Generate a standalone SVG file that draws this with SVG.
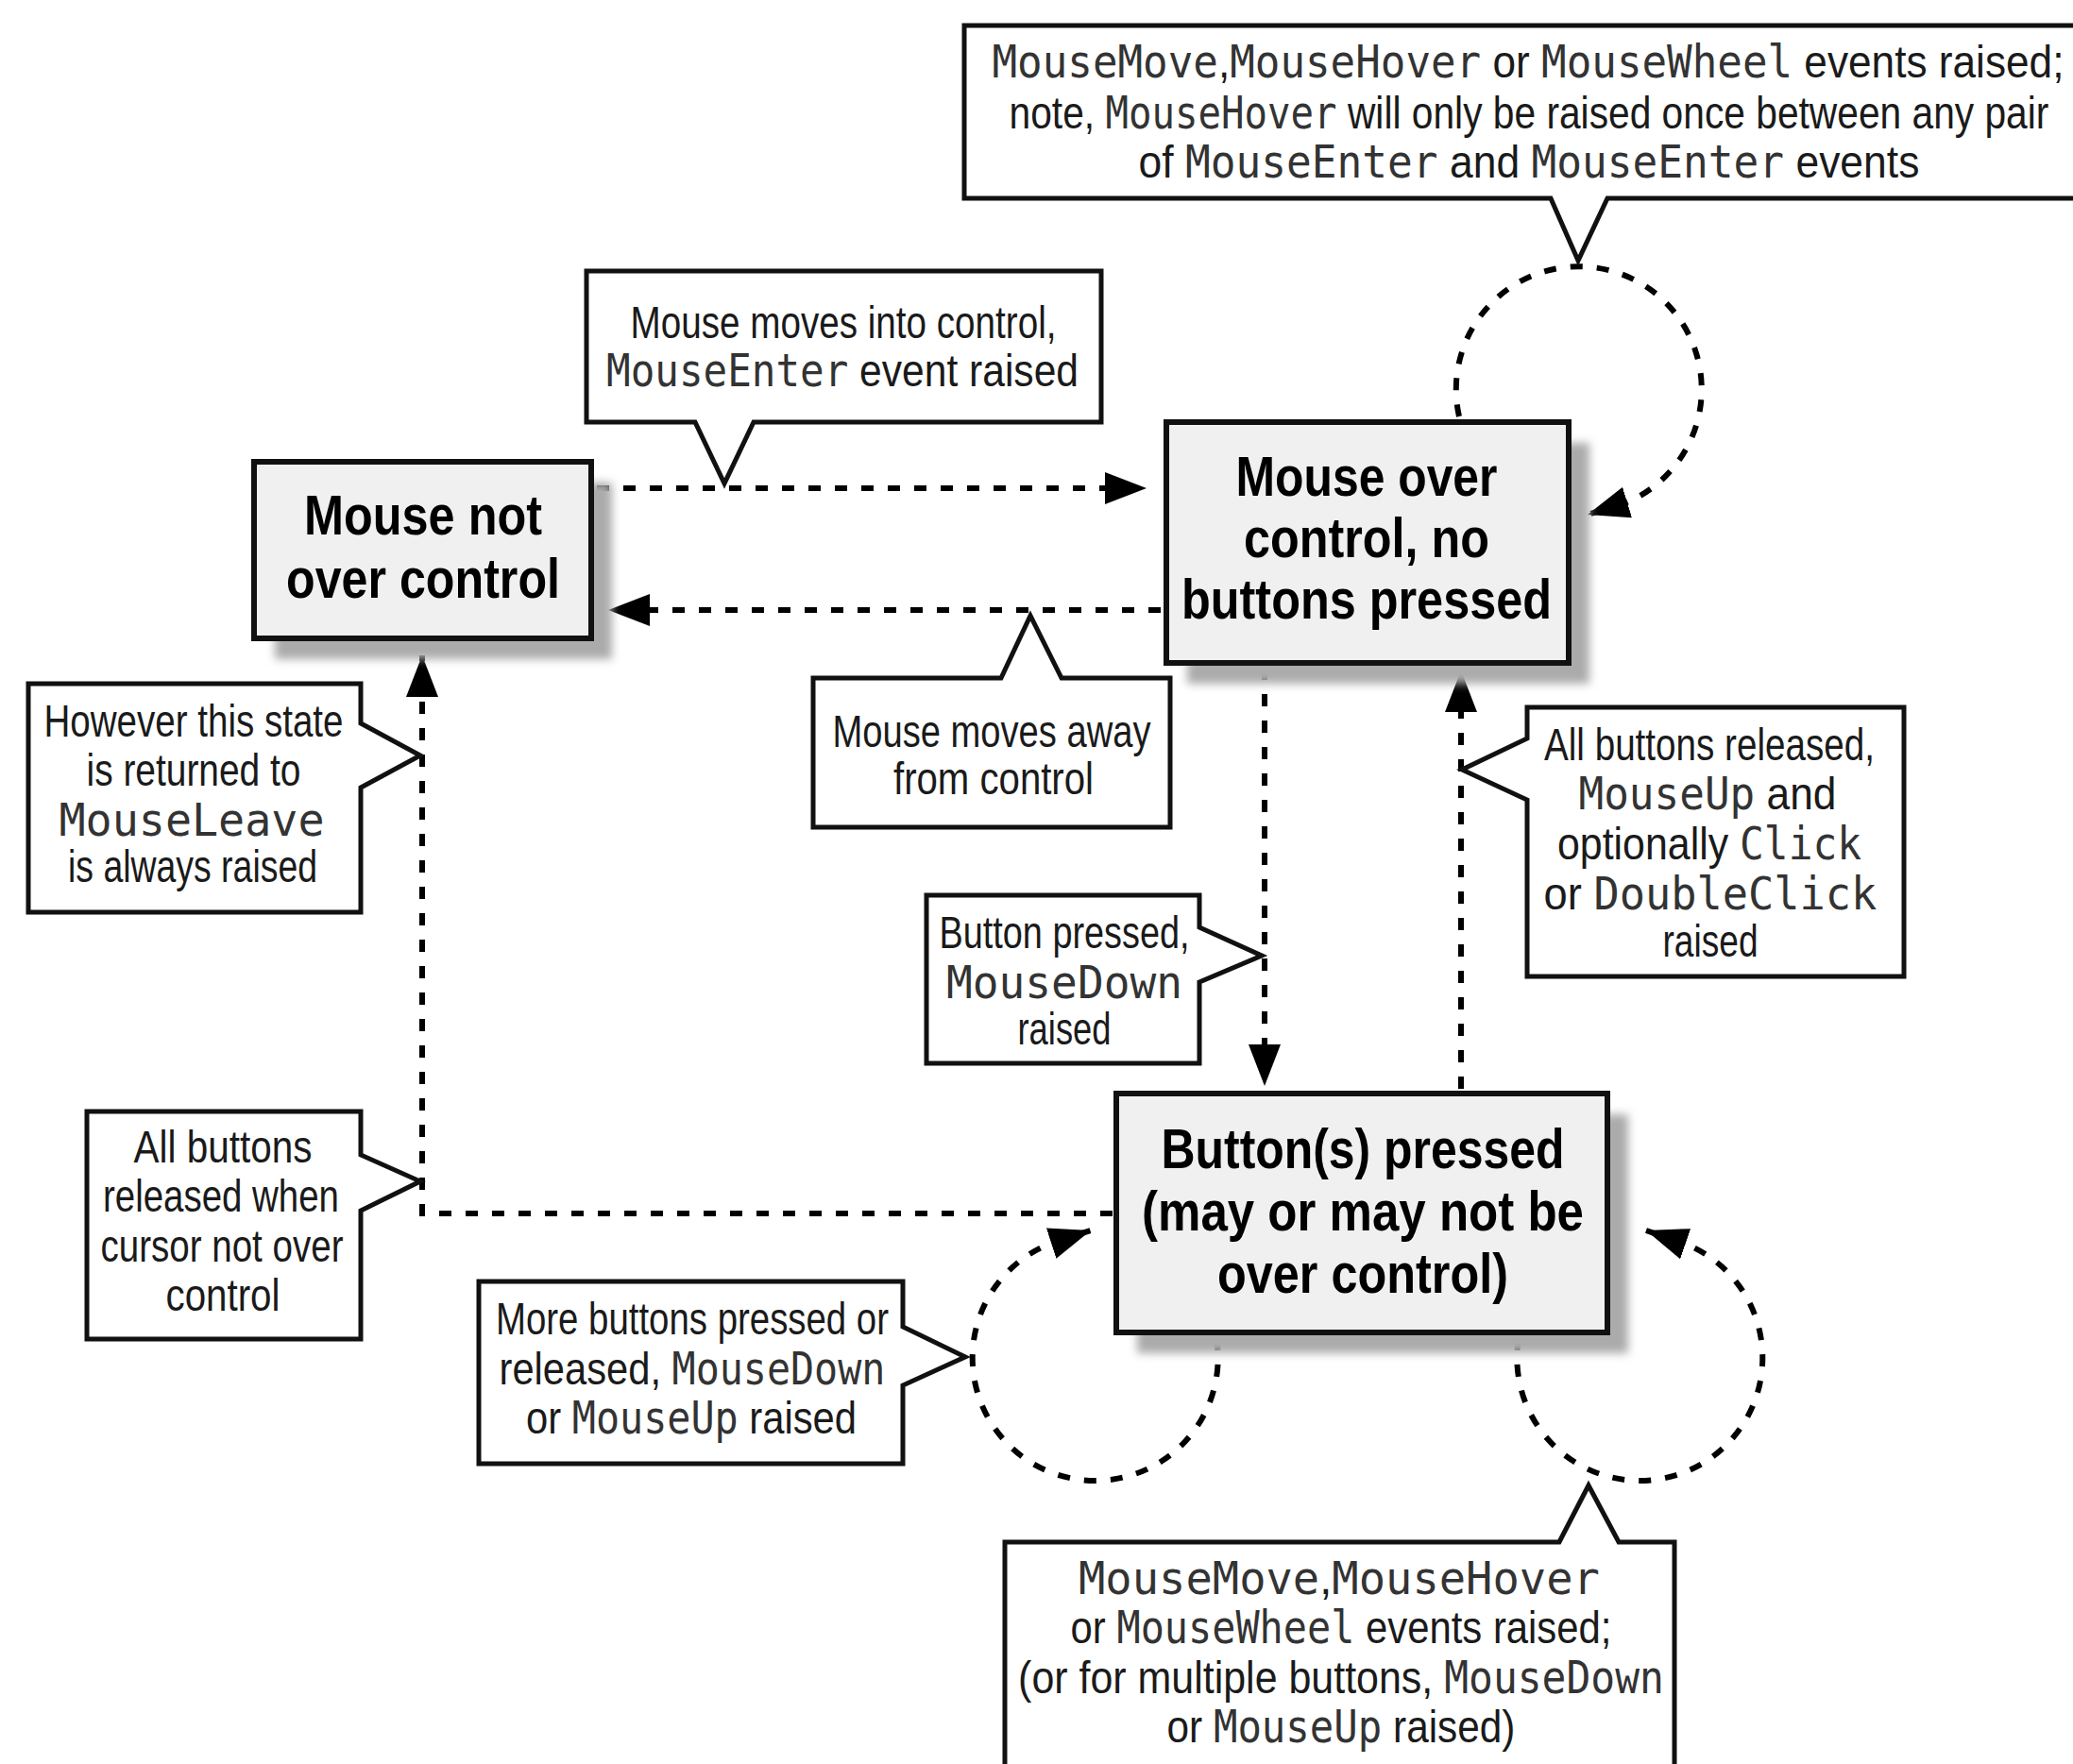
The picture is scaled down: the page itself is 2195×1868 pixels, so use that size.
<svg xmlns="http://www.w3.org/2000/svg" width="2195" height="1868" viewBox="0 0 2195 1868">
<style>
.bg{fill:#fff}
.box{fill:#f0f0f0;stroke:#111;stroke-width:6}
.shadow{fill:#ababab;filter:url(#blur)}
.callout{fill:#fff;stroke:#111;stroke-width:5;stroke-linejoin:miter}
.conn{fill:none;stroke:#000;stroke-width:6;stroke-dasharray:13 15}
.t{font-family:"Liberation Sans",Arial,sans-serif;font-size:48px;fill:#1a1a1a;text-anchor:middle}
.c{font-family:"DejaVu Sans Mono","Liberation Mono",monospace;fill:#333}
.n{font-family:"Liberation Sans",Arial,sans-serif;font-size:60px;font-weight:bold;fill:#000;text-anchor:middle}
</style>
<defs>
<filter id="blur" x="-20%" y="-20%" width="140%" height="140%"><feGaussianBlur stdDeviation="5"/></filter>
<marker id="arr" markerUnits="userSpaceOnUse" viewBox="0 -17 44 34" refX="44" refY="0" markerWidth="44" markerHeight="34" orient="auto"><path d="M0,-17 L44,0 L0,17 Z" fill="#000"/></marker>
</defs>
<rect class="bg" x="0" y="0" width="2195" height="1868"/>

<g id="connectors">
<path class="conn" d="M632,517 H1214" marker-end="url(#arr)"/>
<path class="conn" d="M1229,646 H644" marker-end="url(#arr)"/>
<path class="conn" d="M1545,441 A130,130 0 1 1 1720,533 L1681,545" marker-end="url(#arr)"/>
<path class="conn" d="M1339,707 V1150" marker-end="url(#arr)"/>
<path class="conn" d="M1547,1153 V710" marker-end="url(#arr)"/>
<path class="conn" d="M1178,1285 H447 V694" marker-end="url(#arr)"/>
<path class="conn" d="M1288,1417 A130,130 0 1 1 1112,1317 L1155,1303" marker-end="url(#arr)"/>
<path class="conn" d="M1608,1417 A130,130 0 1 0 1784,1317 L1743,1303" marker-end="url(#arr)"/>
</g>

<g id="node-mouse-not-over">
<rect class="shadow" x="291" y="511" width="357" height="187"/>
<rect class="box" x="269" y="489" width="357" height="187"/>
<text class="n" x="448" y="566" textLength="252" lengthAdjust="spacingAndGlyphs">Mouse not</text>
<text class="n" x="448" y="633" textLength="290" lengthAdjust="spacingAndGlyphs">over control</text>
</g>

<g id="node-mouse-over">
<rect class="shadow" x="1257" y="469" width="426" height="255"/>
<rect class="box" x="1235" y="447" width="426" height="255"/>
<text class="n" x="1447" y="525" textLength="277" lengthAdjust="spacingAndGlyphs">Mouse over</text>
<text class="n" x="1447" y="590" textLength="260" lengthAdjust="spacingAndGlyphs">control, no</text>
<text class="n" x="1447" y="655" textLength="392" lengthAdjust="spacingAndGlyphs">buttons pressed</text>
</g>

<g id="node-buttons-pressed">
<rect class="shadow" x="1204" y="1180" width="520" height="253"/>
<rect class="box" x="1182" y="1158" width="520" height="253"/>
<text class="n" x="1443" y="1237" textLength="427" lengthAdjust="spacingAndGlyphs">Button(s) pressed</text>
<text class="n" x="1443" y="1303" textLength="468" lengthAdjust="spacingAndGlyphs">(may or may not be</text>
<text class="n" x="1443" y="1369" textLength="308" lengthAdjust="spacingAndGlyphs">over control)</text>
</g>

<g id="note-hover">
<path class="callout" d="M1021,27 H2220 V210 H1702 L1671,276 L1642,210 H1021 Z"/>
<text class="t" x="1618" y="82" transform="matrix(0.9207 0 0 1 128.3 0)"><tspan class="c">MouseMove</tspan>,<tspan class="c">MouseHover</tspan> or <tspan class="c">MouseWheel</tspan> events raised;</text>
<text class="t" x="1619" y="136" transform="matrix(0.8486 0 0 1 245.1 0)">note, <tspan class="c">MouseHover</tspan> will only be raised once between any pair</text>
<text class="t" x="1619" y="188" transform="matrix(0.9263 0 0 1 119.3 0)">of <tspan class="c">MouseEnter</tspan> and <tspan class="c">MouseEnter</tspan> events</text>
</g>

<g id="note-enter">
<path class="callout" d="M621,287 H1166 V447 H798 L767,512 L736,447 H621 Z"/>
<text class="t" x="893" y="358" textLength="451" lengthAdjust="spacingAndGlyphs">Mouse moves into control,</text>
<text class="t" x="892" y="409" transform="matrix(0.8869 0 0 1 100.9 0)"><tspan class="c">MouseEnter</tspan> event raised</text>
</g>

<g id="note-away">
<path class="callout" d="M861,718 H1060 L1091,652 L1124,718 H1239 V876 H861 Z"/>
<text class="t" x="1050" y="791" textLength="337" lengthAdjust="spacingAndGlyphs">Mouse moves away</text>
<text class="t" x="1052" y="841" textLength="212" lengthAdjust="spacingAndGlyphs">from control</text>
</g>

<g id="note-leave">
<path class="callout" d="M30,724 H382 V766 L445,800 L382,834 V966 H30 Z"/>
<text class="t" x="205" y="780" textLength="317" lengthAdjust="spacingAndGlyphs">However this state</text>
<text class="t" x="205" y="832" textLength="227" lengthAdjust="spacingAndGlyphs">is returned to</text>
<text class="t c" x="203" y="885" textLength="281" lengthAdjust="spacingAndGlyphs">MouseLeave</text>
<text class="t" x="204" y="934" textLength="264" lengthAdjust="spacingAndGlyphs">is always raised</text>
</g>

<g id="note-release-outside">
<path class="callout" d="M92,1177 H382 V1223 L445,1251 L382,1282 V1418 H92 Z"/>
<text class="t" x="236" y="1231" textLength="189" lengthAdjust="spacingAndGlyphs">All buttons</text>
<text class="t" x="234" y="1283" textLength="250" lengthAdjust="spacingAndGlyphs">released when</text>
<text class="t" x="235" y="1336" textLength="257" lengthAdjust="spacingAndGlyphs">cursor not over</text>
<text class="t" x="236" y="1388" textLength="121" lengthAdjust="spacingAndGlyphs">control</text>
</g>

<g id="note-press">
<path class="callout" d="M981,948 H1270 V982 L1336,1012 L1270,1040 V1126 H981 Z"/>
<text class="t" x="1127" y="1004" textLength="265" lengthAdjust="spacingAndGlyphs">Button pressed,</text>
<text class="t c" x="1127" y="1057" textLength="250" lengthAdjust="spacingAndGlyphs">MouseDown</text>
<text class="t" x="1127" y="1106" textLength="99" lengthAdjust="spacingAndGlyphs">raised</text>
</g>

<g id="note-release">
<path class="callout" d="M1617,749 H2016 V1034 H1617 V847 L1548,815 L1617,782 Z"/>
<text class="t" x="1810" y="805" textLength="350" lengthAdjust="spacingAndGlyphs">All buttons released,</text>
<text class="t" x="1808" y="857" transform="matrix(0.9233 0 0 1 138.7 0)"><tspan class="c">MouseUp</tspan> and</text>
<text class="t" x="1810" y="910" transform="matrix(0.8930 0 0 1 193.7 0)">optionally <tspan class="c">Click</tspan></text>
<text class="t" x="1811" y="963" transform="matrix(0.9441 0 0 1 101.2 0)">or <tspan class="c">DoubleClick</tspan></text>
<text class="t" x="1811" y="1013" textLength="101" lengthAdjust="spacingAndGlyphs">raised</text>
</g>

<g id="note-more-buttons">
<path class="callout" d="M507,1357 H956 V1405 L1022,1437 L956,1467 V1550 H507 Z"/>
<text class="t" x="733" y="1413" textLength="416" lengthAdjust="spacingAndGlyphs">More buttons pressed or</text>
<text class="t" x="733" y="1466" transform="matrix(0.8687 0 0 1 96.2 0)">released, <tspan class="c">MouseDown</tspan></text>
<text class="t" x="732" y="1518" transform="matrix(0.8700 0 0 1 95.2 0)">or <tspan class="c">MouseUp</tspan> raised</text>
</g>

<g id="note-pressed-events">
<path class="callout" d="M1064,1633 H1651 L1682,1573 L1714,1633 H1773 V1880 H1064 Z"/>
<text class="t" x="1418" y="1688" transform="matrix(0.9815 0 0 1 26.2 0)"><tspan class="c">MouseMove</tspan>,<tspan class="c">MouseHover</tspan></text>
<text class="t" x="1420" y="1740" transform="matrix(0.8720 0 0 1 181.8 0)">or <tspan class="c">MouseWheel</tspan> events raised;</text>
<text class="t" x="1420" y="1793" transform="matrix(0.8950 0 0 1 149.1 0)">(or for multiple buttons, <tspan class="c">MouseDown</tspan></text>
<text class="t" x="1420" y="1845" transform="matrix(0.8821 0 0 1 167.4 0)">or <tspan class="c">MouseUp</tspan> raised)</text>
</g>
</svg>
